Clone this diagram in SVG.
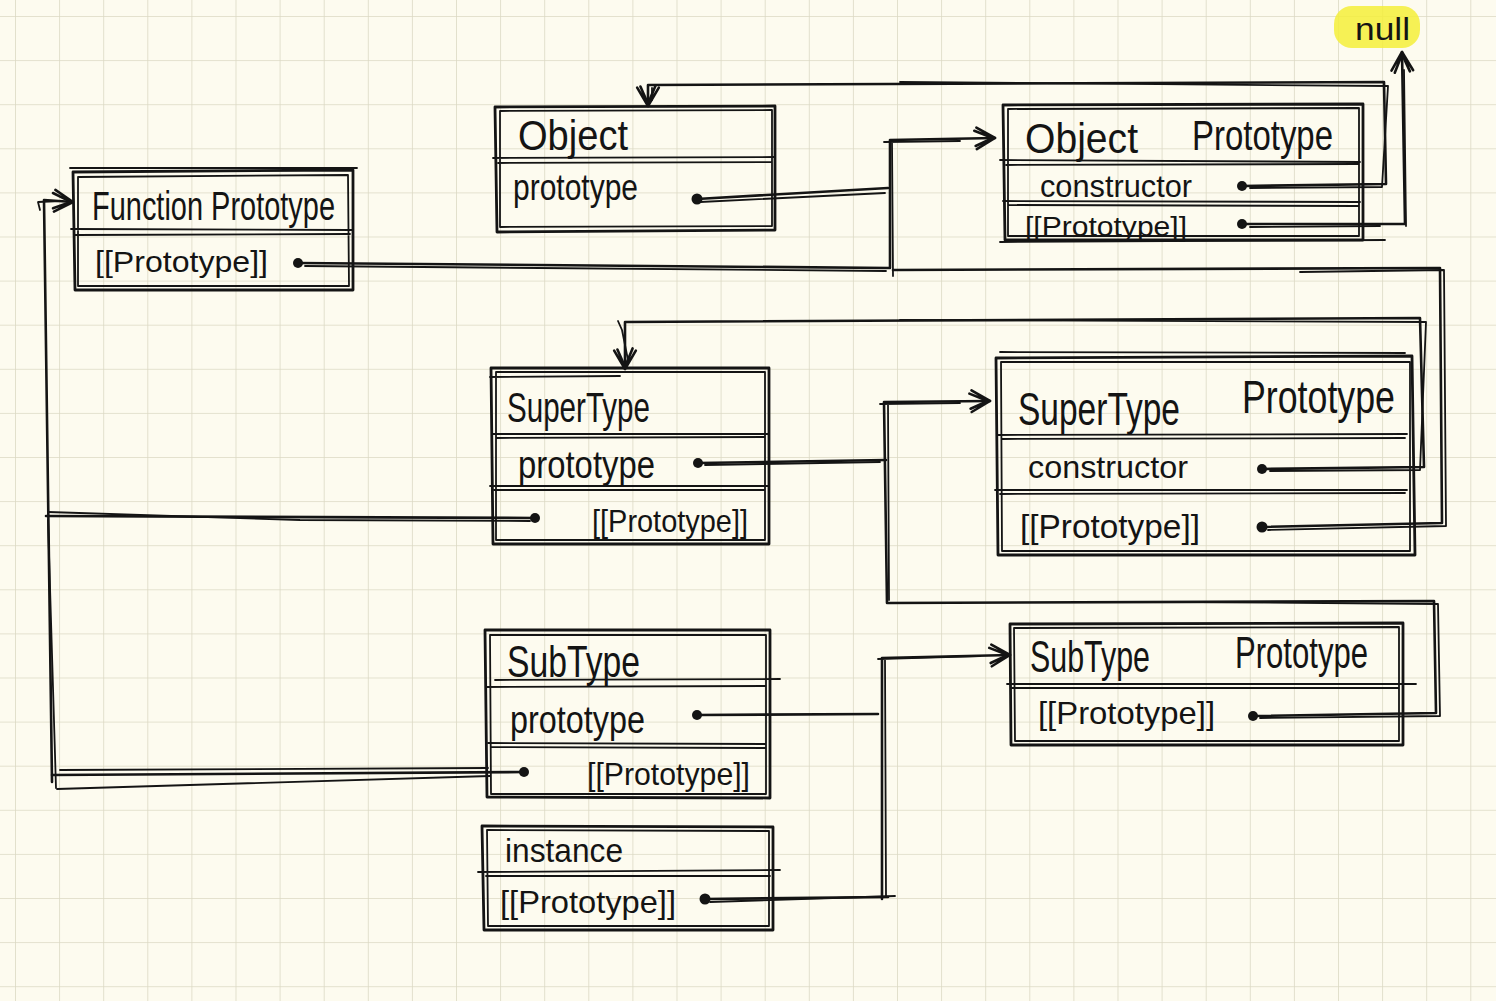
<svg xmlns="http://www.w3.org/2000/svg" width="1496" height="1001" viewBox="0 0 1496 1001">
<defs>
<pattern id="grid" x="15" y="16" width="44.1" height="44.1" patternUnits="userSpaceOnUse">
<path d="M0,0 V44.1 M0,0 H44.1" fill="none" stroke="#dcd9c4" stroke-width="1.6"/>
</pattern>
<marker id="arr" viewBox="0 0 24 24" refX="21" refY="12" markerWidth="26" markerHeight="26" markerUnits="userSpaceOnUse" orient="auto">
<path d="M4,2 L21,12 L4,22 M2,5 L19,12 L3,19" fill="none" stroke="#141414" stroke-width="2.4" stroke-linecap="round" stroke-linejoin="round"/>
</marker>
<style>
.s{fill:none;stroke:#141414;stroke-width:2.8;stroke-linecap:round;stroke-linejoin:round}
.t{fill:none;stroke:#141414;stroke-width:1.8;stroke-linecap:round;stroke-linejoin:round}
.c{fill:none;stroke:#141414;stroke-width:2.6;stroke-linecap:round;stroke-linejoin:round}
.dot{fill:#141414}
text{font-family:"Liberation Sans","DejaVu Sans",sans-serif;fill:#141414}
</style>
</defs>
<rect width="1496" height="1001" fill="#fdfbef"/>
<rect width="1496" height="1001" fill="url(#grid)"/>

<g id="connectors">
<path class="c" d="M298,263 L890,268 L890,140 L995,138" marker-end="url(#arr)"/>
<path class="t" d="M305,266 L886,271 M893,276 L892,142 M884,142 L960,141"/>
<path class="c" d="M697,199 L888,188"/>
<path class="t" d="M700,202 L885,193"/>
<path class="c" d="M1262,527 L1442,523 L1440,268 L893,270"/>
<path class="t" d="M1268,530 L1446,526 L1444,270 L1300,272"/>
<path class="c" d="M1242,186 L1386,184 L1384,82 L648,85 L648,106" marker-end="url(#arr)"/>
<path class="t" d="M1250,188 L1382,187 L1388,86 L900,82 M652,88 L652,100"/>
<path class="c" d="M1242,224 L1405,224 L1402,52" marker-end="url(#arr)"/>
<path class="t" d="M1250,227 L1380,226 M1406,226 L1404,70"/>
<path class="c" d="M698,463 L886,460"/>
<path class="c" d="M887,603 L884,402 L990,401" marker-end="url(#arr)"/>
<path class="t" d="M705,465 L880,462 M889,600 L888,404 M880,404 L960,403"/>
<path class="c" d="M1262,469 L1424,467 L1420,318 L625,322 L625,369" marker-end="url(#arr)"/>
<path class="t" d="M1270,471 L1420,470 L1426,322 L900,320 M618,321 L622,330 L628,360"/>
<path class="c" d="M1253,716 L1436,713 L1434,601 L888,603"/>
<path class="t" d="M1260,718 L1440,716 L1438,604 L1200,602"/>
<path class="c" d="M535,518 L46,516"/>
<path class="t" d="M530,521 L300,520 L48,512"/>
<path class="c" d="M52,782 L44,200 L73,202" marker-end="url(#arr)"/>
<path class="t" d="M56,788 L48,520 M40,210 L38,202 L60,201"/>
<path class="c" d="M524,772 L52,775"/>
<path class="t" d="M488,768 L60,770 M490,776 L57,789"/>
<path class="c" d="M697,715 L878,714"/>
<path class="c" d="M882,899 L882,658 L1010,655" marker-end="url(#arr)"/>
<path class="t" d="M886,896 L885,660 M878,659 L980,656"/>
<path class="c" d="M705,899 L888,897"/>
<path class="t" d="M710,902 L895,896"/>
<circle class="dot" cx="298" cy="263" r="5"/>
<circle class="dot" cx="697" cy="199" r="5.5"/>
<circle class="dot" cx="1242" cy="186" r="5"/>
<circle class="dot" cx="1242" cy="224" r="5"/>
<circle class="dot" cx="698" cy="463" r="5"/>
<circle class="dot" cx="535" cy="518" r="5"/>
<circle class="dot" cx="1262" cy="469" r="5"/>
<circle class="dot" cx="1262" cy="527" r="5.5"/>
<circle class="dot" cx="697" cy="715" r="5"/>
<circle class="dot" cx="524" cy="772" r="5"/>
<circle class="dot" cx="705" cy="899" r="5.5"/>
<circle class="dot" cx="1253" cy="716" r="5"/>
</g>

<g id="null">
<rect x="1334" y="6" width="86" height="42" rx="18" fill="#f4ef3a" opacity="0.85"/>
<text x="1355" y="40" font-size="32" textLength="55" lengthAdjust="spacingAndGlyphs">null</text>
</g>

<g id="function-prototype">
<path class="s" d="M73,172 L353,170 L353,290 L75,290 Z"/>
<path class="t" d="M78,177 L348,175 L349,286 L78,286 Z M70,168 L357,168 M71,229 L352,230 M75,235 L350,234"/>
<text x="92" y="220" font-size="40" textLength="243" lengthAdjust="spacingAndGlyphs">Function Prototype</text>
<text x="95" y="272" font-size="30" textLength="173" lengthAdjust="spacingAndGlyphs">[[Prototype]]</text>
</g>

<g id="object">
<path class="s" d="M495,107 L775,106 L775,230 L497,232 Z"/>
<path class="t" d="M500,111 L772,110 L772,226 L500,227 Z M493,158 L775,157 M498,163 L772,162"/>
<text x="518" y="150" font-size="42" textLength="110" lengthAdjust="spacingAndGlyphs">Object</text>
<text x="513" y="200" font-size="36" textLength="125" lengthAdjust="spacingAndGlyphs">prototype</text>
</g>

<g id="object-prototype">
<path class="s" d="M1003,105 L1363,104 L1363,240 L1005,240 Z"/>
<path class="t" d="M1008,109 L1359,108 L1359,236 L1008,236 Z M1000,160 L1360,162 M1006,165 L1358,164 M1003,201 L1360,202 M1008,205 L1358,206 M1000,242 L1385,240"/>
<text font-size="42"><tspan x="1025" y="153" textLength="113" lengthAdjust="spacingAndGlyphs">Object</tspan> <tspan x="1192" y="150" textLength="141" lengthAdjust="spacingAndGlyphs">Prototype</tspan></text>
<text x="1040" y="197" font-size="32" textLength="152" lengthAdjust="spacingAndGlyphs">constructor</text>
<text x="1025" y="236" font-size="27" textLength="162" lengthAdjust="spacingAndGlyphs">[[Prototype]]</text>
</g>

<g id="supertype">
<path class="s" d="M491,368 L769,368 L769,544 L493,544 Z"/>
<path class="t" d="M496,372 L765,372 L765,540 L496,540 Z M490,377 L620,376 M493,434 L768,434 M496,438 L765,437 M490,486 L768,486 M494,490 L765,490"/>
<text x="507" y="422" font-size="42" textLength="143" lengthAdjust="spacingAndGlyphs">SuperType</text>
<text x="518" y="478" font-size="38" textLength="137" lengthAdjust="spacingAndGlyphs">prototype</text>
<text x="592" y="532" font-size="32" textLength="156" lengthAdjust="spacingAndGlyphs">[[Prototype]]</text>
</g>

<g id="supertype-prototype">
<path class="s" d="M996,358 L1412,356 L1415,555 L998,555 Z"/>
<path class="t" d="M1001,362 L1410,362 L1410,551 L1002,551 Z M1000,352 L1405,353 M998,435 L1407,434 M1002,439 L1405,438 M995,490 L1407,490 M1000,494 L1405,493"/>
<text font-size="46"><tspan x="1018" y="425" textLength="162" lengthAdjust="spacingAndGlyphs">SuperType</tspan> <tspan x="1242" y="413" textLength="153" lengthAdjust="spacingAndGlyphs">Prototype</tspan></text>
<text x="1028" y="478" font-size="32" textLength="160" lengthAdjust="spacingAndGlyphs">constructor</text>
<text x="1020" y="538" font-size="34" textLength="180" lengthAdjust="spacingAndGlyphs">[[Prototype]]</text>
</g>

<g id="subtype">
<path class="s" d="M485,630 L770,630 L770,798 L487,797 Z"/>
<path class="t" d="M490,635 L766,635 L766,794 L491,794 Z M495,680 L780,679 M487,687 L766,686 M488,743 L766,744 M491,747 L765,748"/>
<text x="507" y="677" font-size="44" textLength="133" lengthAdjust="spacingAndGlyphs">SubType</text>
<text x="510" y="733" font-size="38" textLength="135" lengthAdjust="spacingAndGlyphs">prototype</text>
<text x="587" y="785" font-size="32" textLength="163" lengthAdjust="spacingAndGlyphs">[[Prototype]]</text>
</g>

<g id="instance">
<path class="s" d="M482,826 L773,827 L773,930 L484,930 Z"/>
<path class="t" d="M487,830 L769,831 L769,926 L488,926 Z M478,872 L780,870 M486,876 L770,876"/>
<text x="505" y="862" font-size="34" textLength="118" lengthAdjust="spacingAndGlyphs">instance</text>
<text x="500" y="913" font-size="32" textLength="176" lengthAdjust="spacingAndGlyphs">[[Prototype]]</text>
</g>

<g id="subtype-prototype">
<path class="s" d="M1010,624 L1403,623 L1403,745 L1011,745 Z"/>
<path class="t" d="M1014,628 L1399,627 L1399,741 L1015,741 Z M1007,684 L1416,684 M1012,688 L1398,688"/>
<text font-size="44"><tspan x="1030" y="672" textLength="120" lengthAdjust="spacingAndGlyphs">SubType</tspan> <tspan x="1235" y="668" textLength="133" lengthAdjust="spacingAndGlyphs">Prototype</tspan></text>
<text x="1038" y="724" font-size="32" textLength="177" lengthAdjust="spacingAndGlyphs">[[Prototype]]</text>
</g>
</svg>
